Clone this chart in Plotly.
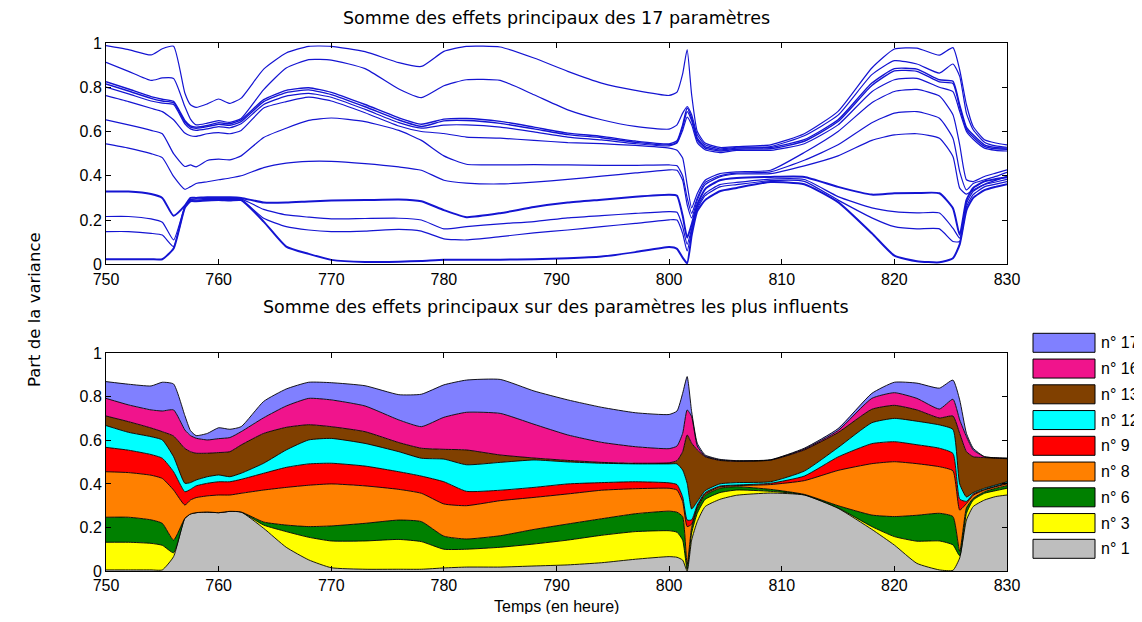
import plotly.graph_objects as go

# ---------------- data ----------------
T = [750, 752, 754, 755, 756, 757, 757.5, 758, 759, 760, 761, 762, 764, 766, 768,
     770, 773, 776, 778, 780, 782, 785, 788, 791, 794, 797, 800, 800.7, 801.2, 801.6,
     802, 802.5, 803.2, 804.5, 806, 809, 812, 815, 818, 820, 822, 824, 825.2, 825.8,
     826.4, 827, 828, 829, 830]

# top panel: cumulated main effects (one curve per partial sum)
U1 = [.988,.970,.946,.974,.985, .774,.721,.709,.725,.747, .727,.751,.882,.955,.985, .985,.961,.911,.894,.962,
      .985,.982,.932,.872,.819, .786,.763,.778,.860,.970, .766,.600,.548,.528,.532, .540,.590,.691,.887,.973,
      .977,.945,.979,.878,.721, .623,.563,.548,.540]
U2 = [.913,.872,.831,.842,.840, .713,.656,.630,.638,.649, .641,.659,.789,.887,.925, .923,.884,.792,.753,.807,
      .834,.831,.766,.698,.653, .623,.611,.630,.683,.713, .676,.585,.540,.522,.529, .532,.581,.674,.857,.920,
      .905,.864,.905,.849,.682, .608,.552,.535,.529]
U3 = [.825,.792,.758,.746,.736, .650,.626,.620,.627,.640, .635,.653,.744,.786,.798, .777,.722,.662,.633,.656,
      .659,.646,.620,.593,.578, .557,.544,.558,.630,.706, .661,.570,.532,.517,.525, .528,.563,.653,.819,.884,
      .882,.834,.827,.721,.619, .585,.540,.528,.525]
U4 = [.815,.783,.750,.738,.730, .644,.620,.615,.622,.633, .628,.645,.735,.776,.788, .767,.712,.652,.623,.648,
      .650,.637,.612,.586,.572, .551,.540,.552,.620,.690, .650,.562,.525,.512,.520, .522,.556,.645,.808,.874,
      .872,.824,.817,.710,.610, .575,.533,.522,.520]
U5 = [.801,.770,.738,.728,.722, .635,.612,.605,.612,.622, .617,.635,.722,.760,.772, .755,.700,.640,.615,.629,
      .630,.620,.598,.575,.562, .545,.535,.548,.605,.665, .630,.550,.518,.505,.515, .515,.545,.630,.780,.834,
      .840,.800,.780,.690,.600, .565,.525,.515,.512]
U6 = [.762,.735,.705,.690,.653, .593,.581,.578,.590,.595, .590,.605,.706,.735,.755, .738,.685,.625,.600,.591,
      .575,.570,.560,.550,.545, .537,.525,.515,.480,.360, .255,.320,.380,.410,.418, .425,.505,.600,.730,.781,
      .790,.760,.676,.540,.382, .374,.397,.412,.427]
U7 = [.653,.630,.605,.590,.500, .442,.449,.440,.469,.475, .472,.490,.573,.615,.650, .661,.645,.605,.560,.490,
      .452,.449,.450,.449,.447, .447,.449,.445,.400,.300, .230,.300,.370,.400,.412, .418,.470,.540,.640,.683,
      .690,.660,.570,.419,.336, .365,.382,.397,.416]
U8 = [.544,.525,.500,.482,.397, .339,.351,.365,.373,.382, .390,.400,.437,.457,.465, .465,.455,.440,.425,.380,
      .367,.363,.371,.384,.398, .413,.427,.425,.380,.270, .210,.290,.360,.395,.408, .410,.445,.490,.560,.585,
      .590,.570,.487,.344,.317, .336,.362,.379,.397]
U9 = [.329,.329,.318,.300,.219, .265,.300,.300,.303,.303, .303,.300,.279,.279,.284, .288,.290,.293,.285,.245,
      .213,.231,.259,.279,.292, .305,.314,.310,.220,.120, .180,.270,.340,.380,.390, .395,.395,.350,.315,.321,
      .322,.321,.253,.133,.290, .345,.375,.385,.394]
U10 = [.216,.216,.205,.190,.110, .260,.293,.295,.298,.298, .298,.296,.248,.223,.213, .205,.207,.208,.200,.160,
       .170,.183,.193,.210,.220, .230,.238,.235,.170,.090, .160,.260,.320,.360,.370, .385,.383,.306,.255,.238,
       .232,.232,.163,.118,.275, .330,.360,.372,.384]
U11 = [.148,.148,.140,.132,.080, .258,.290,.290,.293,.293, .293,.292,.208,.170,.155, .148,.150,.158,.150,.115,
       .110,.125,.142,.155,.170, .185,.201,.200,.140,.060, .150,.250,.310,.350,.360, .378,.375,.290,.210,.170,
       .160,.160,.103,.103,.260, .315,.350,.362,.374]
U12 = [.023,.023,.023,.023,.071, .256,.285,.285,.288,.290, .288,.290,.193,.080,.047, .020,.010,.012,.015,.020,
       .020,.021,.023,.027,.035, .055,.078,.070,.030,.005, .130,.240,.290,.330,.345, .372,.362,.281,.140,.039,
       .014,.009,.027,.090,.245, .300,.335,.350,.362]

# bottom panel: cumulated effects of the most influential parameters (upper edge of each layer)
B1 = [.005,.005,.005,.005,.066, .242,.262,.268,.271,.268, .274,.271,.196,.109,.051, .015,.008,.008,.008,.014,
      .018,.018,.023,.028,.038, .054,.066,.063,.050,.000, .142,.227,.296,.329,.348, .358,.349,.288,.191,.119,
      .035,.005,.003,.060,.234, .296,.326,.342,.349]
B3 = [.132,.132,.127,.118,.084, .242,.262,.268,.271,.268, .274,.271,.211,.181,.155, .138,.138,.145,.135,.100,
      .100,.109,.124,.142,.164, .181,.185,.178,.142,.008, .175,.265,.329,.360,.372, .366,.350,.290,.204,.158,
      .137,.138,.120,.070,.265, .326,.357,.369,.380]
B6 = [.247,.247,.235,.219,.142, .242,.262,.268,.271,.268, .274,.271,.225,.211,.204, .207,.219,.234,.227,.160,
      .147,.162,.191,.216,.240, .263,.275,.270,.250,.030, .200,.288,.348,.380,.387, .375,.352,.300,.257,.250,
      .256,.265,.250,.090,.290, .334,.364,.380,.392]
B8 = [.456,.452,.440,.425,.372, .303,.326,.337,.345,.349, .349,.357,.372,.384,.394, .400,.391,.375,.357,.308,
      .300,.323,.338,.354,.371, .378,.380,.372,.319,.204, .215,.296,.354,.386,.392, .397,.415,.462,.493,.502,
      .493,.479,.460,.280,.310, .348,.372,.387,.400]
B9 = [.568,.555,.535,.518,.456, .364,.375,.391,.403,.410, .410,.421,.449,.476,.492, .495,.482,.456,.436,.410,
      .366,.371,.384,.400,.406, .410,.405,.397,.341,.234, .235,.303,.360,.390,.395, .403,.436,.524,.585,.594,
      .580,.564,.540,.330,.320, .354,.375,.390,.405]
B12 = [.668,.637,.617,.602,.525, .403,.406,.418,.433,.441, .433,.449,.495,.556,.602, .609,.586,.548,.518,.514,
       .488,.499,.510,.501,.495, .492,.492,.492,.464,.403, .285,.319,.369,.400,.406, .410,.459,.567,.681,.701,
       .688,.671,.650,.400,.340, .360,.380,.395,.410]
B13 = [.712,.686,.657,.640,.620, .563,.548,.541,.541,.544, .548,.579,.632,.660,.672, .663,.640,.590,.564,.559,
       .556,.533,.519,.508,.499, .495,.497,.507,.548,.625, .587,.556,.525,.508,.504, .509,.556,.636,.743,.761,
       .740,.703,.712,.632,.548, .525,.521,.518,.516]
B16 = [.793,.763,.740,.735,.740, .648,.622,.610,.602,.608, .613,.640,.704,.758,.793, .786,.758,.694,.663,.706,
       .729,.724,.674,.625,.591, .571,.562,.574,.632,.740, .709,.574,.528,.510,.505, .510,.560,.645,.793,.819,
       .793,.744,.789,.694,.617, .556,.525,.520,.518]
B17 = [.870,.858,.850,.867,.859, .714,.645,.622,.632,.658, .651,.663,.779,.836,.867, .865,.851,.810,.812,.855,
       .877,.880,.827,.786,.752, .727,.719,.735,.816,.893, .732,.587,.533,.513,.507, .511,.564,.654,.816,.867,
       .863,.840,.877,.786,.632, .564,.525,.520,.518]

layer_names = ["n° 1", "n° 3", "n° 6", "n° 8", "n° 9", "n° 12", "n° 13", "n° 16", "n° 17"]
layer_colors = ["#bebebe", "#ffff00", "#008000", "#ff8000", "#ff0000", "#00ffff", "#804000", "#f0148c", "#8080ff"]
layer_tops = [B1, B3, B6, B8, B9, B12, B13, B16, B17]

x_ticks = [750, 760, 770, 780, 790, 800, 810, 820, 830]
y_ticks = [0, 0.2, 0.4, 0.6, 0.8, 1]

# ---------------- figure ----------------
fig = go.Figure()

top_lines = [U1, U2, U3, U4, U5, U6, U7, U8, U9, U10, U11, U12]
top_widths = [1.2, 1.2, 1.4, 1.4, 1.2, 1.2, 1.2, 1.2, 2.0, 1.2, 1.2, 2.0]
for vals, w in zip(top_lines, top_widths):
    fig.add_trace(go.Scatter(x=T, y=vals, mode="lines", xaxis="x", yaxis="y",
                             line=dict(color="rgb(20,20,210)", width=w, shape="spline", smoothing=0.5),
                             showlegend=False, hoverinfo="skip"))

for i, (name, vals, col) in enumerate(zip(layer_names, layer_tops, layer_colors)):
    fig.add_trace(go.Scatter(x=T, y=vals, mode="lines", xaxis="x2", yaxis="y2",
                             name=name, fill="tozeroy" if i == 0 else "tonexty",
                             fillcolor=col,
                             line=dict(color="black", width=0.9, shape="spline", smoothing=0.5),
                             showlegend=False, hoverinfo="skip"))

# the page has an 8 px body margin: positions below are page pixels, converted to figure pixels
OFF = 8
W, H = 1142 - OFF, 622 - 2 * OFF
X_LEFT, X_RIGHT = 106, 1007          # page px of the axes' left / right edges
Y_BOTTOM, Y_TOP = 571, 43            # page px of the lower axes bottom / upper axes top
L = X_LEFT - OFF
R = W - (X_RIGHT - OFF)
TOP = Y_TOP - OFF
BOT = H - (Y_BOTTOM - OFF)
PW, PH = W - L - R, H - TOP - BOT

def py(p):
    return (Y_BOTTOM - p) / PH

def px(p):
    return (p - X_LEFT) / PW

tickfont = dict(family="Liberation Sans, Arial, sans-serif", size=16, color="black")
axis_common = dict(showline=True, linecolor="black", linewidth=1, mirror="ticks",
                   ticks="inside", ticklen=5, tickcolor="black", showgrid=False,
                   zeroline=False, tickfont=tickfont)

fig.update_layout(
    width=W, height=H,
    margin=dict(l=L, r=R, t=TOP, b=BOT),
    paper_bgcolor="white", plot_bgcolor="white",
    showlegend=False,
    xaxis=dict(domain=[0, 1], anchor="y", range=[750, 830], tickvals=x_ticks, **axis_common),
    yaxis=dict(domain=[py(264.3), 1], anchor="x", range=[0, 1], tickvals=y_ticks, **axis_common),
    xaxis2=dict(domain=[0, 1], anchor="y2", range=[750, 830], tickvals=x_ticks, **axis_common),
    yaxis2=dict(domain=[0, py(353.3)], anchor="x2", range=[0, 1], tickvals=y_ticks, **axis_common),
)

title_font = dict(family="DejaVu Sans, sans-serif", size=17.5, color="black")
ann = [
    dict(text="Somme des effets principaux des 17 paramètres", x=px(556), y=py(18),
         xref="paper", yref="paper", showarrow=False, font=title_font, xanchor="center", yanchor="middle"),
    dict(text="Somme des effets principaux sur des paramètres les plus influents", x=px(556), y=py(307),
         xref="paper", yref="paper", showarrow=False, font=title_font, xanchor="center", yanchor="middle"),
    dict(text="Part de la variance", x=px(35), y=py(310), xref="paper", yref="paper",
         showarrow=False, textangle=-90, font=dict(family="DejaVu Sans, sans-serif", size=16.5, color="black"),
         xanchor="center", yanchor="middle"),
    dict(text="Temps (en heure)", x=px(556), y=py(606), xref="paper", yref="paper",
         showarrow=False, font=dict(family="Liberation Sans, Arial, sans-serif", size=16, color="black"),
         xanchor="center", yanchor="middle"),
]

# legend drawn as boxes + labels (top entry = last layer)
shapes = []
leg_order = list(range(len(layer_names)))[::-1]
for k, idx in enumerate(leg_order):
    top = 333.3 + 25.75 * k
    shapes.append(dict(type="rect", xref="paper", yref="paper",
                       x0=px(1033), x1=px(1095), y0=py(top + 19), y1=py(top),
                       fillcolor=layer_colors[idx], line=dict(color="black", width=1)))
    ann.append(dict(text=layer_names[idx], x=px(1099), y=py(top + 9.5), xref="paper", yref="paper",
                    showarrow=False, xanchor="left", yanchor="middle",
                    font=dict(family="Liberation Sans, Arial, sans-serif", size=16, color="black")))

fig.update_layout(annotations=ann, shapes=shapes)
fig.write_html("out.html")
